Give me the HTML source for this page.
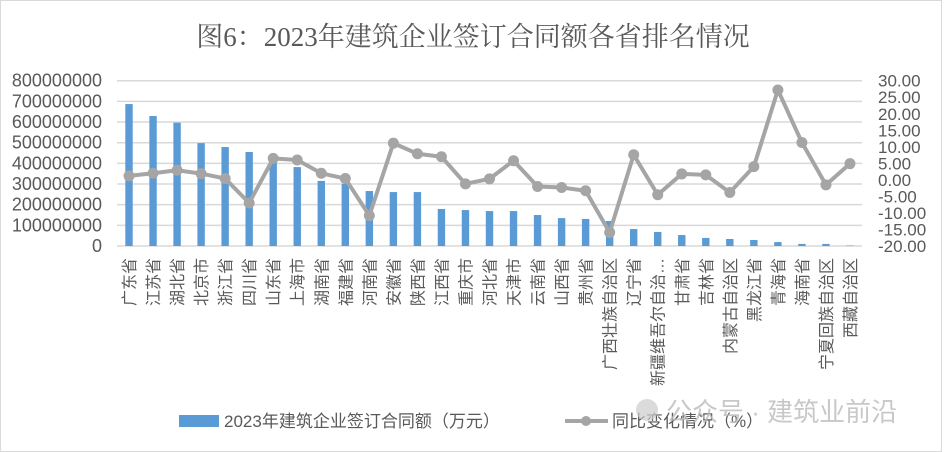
<!DOCTYPE html>
<html><head><meta charset="utf-8"><style>
html,body{margin:0;padding:0;background:#fff;}
svg{display:block;font-family:"Liberation Sans","Noto Sans CJK SC",sans-serif;}
</style></head><body>
<svg id="s" width="947" height="452" viewBox="0 0 947 452" xmlns="http://www.w3.org/2000/svg">
<rect x="0.5" y="0.5" width="941" height="451" fill="#fff" stroke="#d9d9d9"/>
<text x="473" y="46" text-anchor="middle" font-family="'Liberation Serif','Noto Serif CJK SC',serif" font-size="27" fill="#595959">图6：2023年建筑企业签订合同额各省排名情况</text>
<g id="g"></g>
<rect x="179" y="415" width="40" height="12" fill="#5b9bd5"/>
<text x="224" y="427" font-size="17" fill="#595959">2023年建筑企业签订合同额（万元）</text>
<line x1="565" y1="421" x2="608" y2="421" stroke="#a5a5a5" stroke-width="4"/>
<circle cx="586" cy="421" r="5" fill="#a5a5a5"/>
<text x="612" y="427" font-size="17" fill="#595959">同比变化情况（%）</text>
<circle cx="647" cy="410" r="11" fill="#ccc" opacity="0.7"/>
<text x="666" y="421" font-size="26" fill="#bbb" opacity="0.8">公众号 · 建筑业前沿</text>
</svg>
<script>
(function(){
const names=["广东省","江苏省","湖北省","北京市","浙江省","四川省","山东省","上海市","湖南省","福建省","河南省","安徽省","陕西省","江西省","重庆市","河北省","天津市","云南省","山西省","贵州省","广西壮族自治区","辽宁省","新疆维吾尔自治…","甘肃省","吉林省","内蒙古自治区","黑龙江省","青海省","海南省","宁夏回族自治区","西藏自治区"];
const bars=[687,629,597,498,479,455,410,382,315,300,266,261,261,179,174,169,169,150,135,131,121,82,68,53,39,34,29,19,10,10,2];
const line=[1.2,2.0,2.9,1.9,0.4,-7.0,6.5,6.0,2.0,0.4,-10.8,11.1,7.9,7.0,-1.2,0.3,5.8,-2.0,-2.3,-3.3,-15.9,7.6,-4.5,1.8,1.5,-3.8,4.0,27.2,11.3,-1.5,4.9];
const yTop=80.7,yBot=246,x0=117,x1=862,n=31,w=(x1-x0)/n;
let h="";
for(let i=0;i<=8;i++){const y=yTop+(yBot-yTop)*i/8;h+=`<line x1="${x0}" x2="${x1}" y1="${y}" y2="${y}" stroke="#d9d9d9" stroke-width="1.5"/>`;
h+=`<text x="102" y="${y+6}" text-anchor="end" font-size="18" fill="#595959">${i==8?"0":((8-i)*100000000)}</text>`;}
for(let i=0;i<=10;i++){const y=yTop+(yBot-yTop)*i/10;const v=30-5*i;h+=`<text x="878" y="${y+6}" font-size="17" fill="#595959">${v.toFixed(2)}</text>`;}
const cx=i=>x0+w*(i+0.5);
bars.forEach((b,i)=>{const hh=b/800*(yBot-yTop);h+=`<rect x="${cx(i)-3.7}" y="${yBot-hh}" width="7.4" height="${hh}" fill="#5b9bd5"/>`;});
const ly=v=>yTop+(30-v)*(yBot-yTop)/50;
h+=`<polyline fill="none" stroke="#a5a5a5" stroke-width="4" stroke-linejoin="round" points="${line.map((v,i)=>cx(i)+","+ly(v)).join(" ")}"/>`;
line.forEach((v,i)=>h+=`<circle cx="${cx(i)}" cy="${ly(v)}" r="5.5" fill="#a5a5a5"/>`);
names.forEach((s,i)=>{const x=cx(i)+6,y=258;h+=`<text transform="translate(${x},${y}) rotate(-90)" text-anchor="end" font-size="16" fill="#595959">${s}</text>`;});
document.getElementById("g").innerHTML=h;
})();
</script>
</body></html>
